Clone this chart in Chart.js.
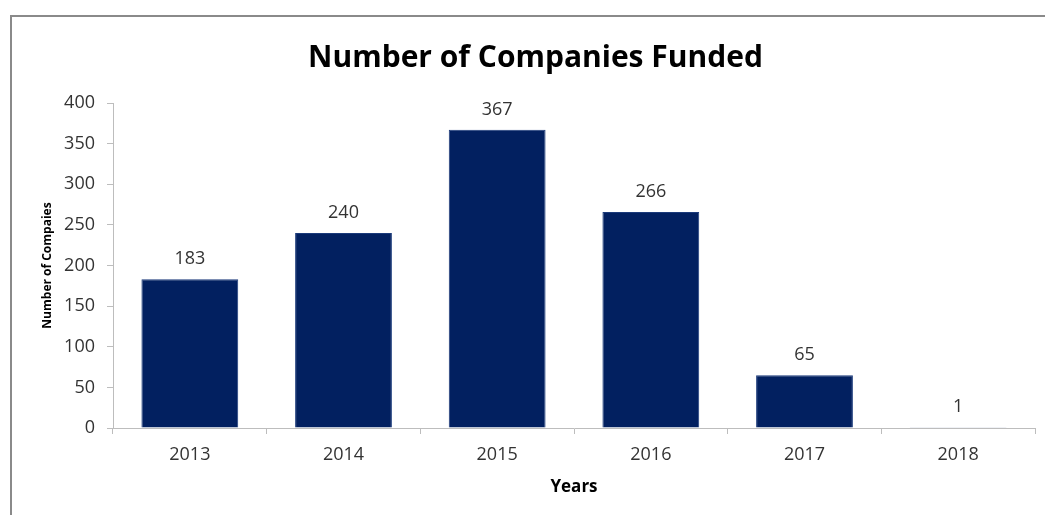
<!DOCTYPE html>
<html>
<head>
<meta charset="utf-8">
<script src="https://cdn.jsdelivr.net/npm/chart.js@4.4.1/dist/chart.umd.min.js"></script>
<style>
    html, body { margin: 0; padding: 0; background: #fff; }
    #wrap { position: relative; width: 1045px; height: 515px; }
    #frame {
        position: absolute; left: 10px; top: 15px; right: 0; bottom: 0;
        border-top: 2px solid #8a8a8a; border-left: 2px solid #8a8a8a;
        pointer-events: none;
    }
    canvas { position: absolute; left: 0; top: 0; }
</style>
</head>
<body>
<div id="wrap">
    <canvas id="fundedChart" width="1045" height="515"></canvas>
    <div id="frame"></div>
</div>
<script>
// chart data
const years = ['2013', '2014', '2015', '2016', '2017', '2018'];
const companiesFunded = [183, 240, 367, 266, 65, 1];
const yTicks = [0, 50, 100, 150, 200, 250, 300, 350, 400];

const FONT = "'Open Sans', 'DejaVu Sans', sans-serif";
const AXIS_GREY = '#bdbdbd';

// Draws the value above each bar
const valueLabels = {
    id: 'valueLabels',
    afterDatasetsDraw(chart) {
        const ctx = chart.ctx;
        const meta = chart.getDatasetMeta(0);
        ctx.save();
        ctx.font = '18px ' + FONT;
        ctx.fillStyle = '#333333';
        ctx.textAlign = 'center';
        ctx.textBaseline = 'middle';
        meta.data.forEach((bar, i) => {
            ctx.fillText(String(companiesFunded[i]), bar.x, bar.y - 20);
        });
        ctx.restore();
    }
};

const ctx = document.getElementById('fundedChart').getContext('2d');
new Chart(ctx, {
    type: 'bar',
    data: {
        labels: years,
        datasets: [{
            label: 'Number of Companies',
            data: companiesFunded,
            backgroundColor: '#022060',
            borderColor: '#1b3a7a',
            borderWidth: 1,
            categoryPercentage: 1,
            barPercentage: 0.63
        }]
    },
    options: {
        responsive: false,
        animation: false,
        layout: { padding: { left: 36, right: 10, top: 21, bottom: 8 } },
        plugins: {
            legend: { display: false },
            tooltip: { enabled: false },
            title: {
                display: true,
                text: 'Number of Companies Funded',
                color: '#000',
                font: { family: FONT, size: 30, weight: 'bold' },
                padding: { top: 19, bottom: 27 }
            }
        },
        scales: {
            x: {
                offset: true,
                grid: {
                    display: true,
                    offset: true,
                    drawOnChartArea: false,
                    color: AXIS_GREY,
                    tickLength: 6
                },
                border: { color: AXIS_GREY, width: 1 },
                ticks: {
                    color: '#333333',
                    font: { family: FONT, size: 18 },
                    padding: 10
                },
                title: {
                    display: true,
                    text: 'Years',
                    color: '#000',
                    font: { family: FONT, size: 17, weight: 'bold' },
                    padding: { top: 4, bottom: 10 }
                },
                afterFit(scale) { scale.height = 79; }
            },
            y: {
                min: 0,
                max: 400,
                afterBuildTicks(scale) {
                    scale.ticks = yTicks.map(v => ({ value: v }));
                },
                grid: {
                    display: true,
                    drawOnChartArea: false,
                    color: AXIS_GREY,
                    tickLength: 6
                },
                border: { color: AXIS_GREY, width: 1 },
                ticks: {
                    color: '#333333',
                    font: { family: FONT, size: 18 },
                    padding: 12
                },
                title: {
                    display: true,
                    text: 'Number of Compaies',
                    color: '#000',
                    font: { family: FONT, size: 12, weight: 'bold' },
                    padding: { top: 4, bottom: 4 }
                },
                afterFit(scale) { scale.width = 77; }
            }
        }
    },
    plugins: [valueLabels]
});
</script>
</body>
</html>
